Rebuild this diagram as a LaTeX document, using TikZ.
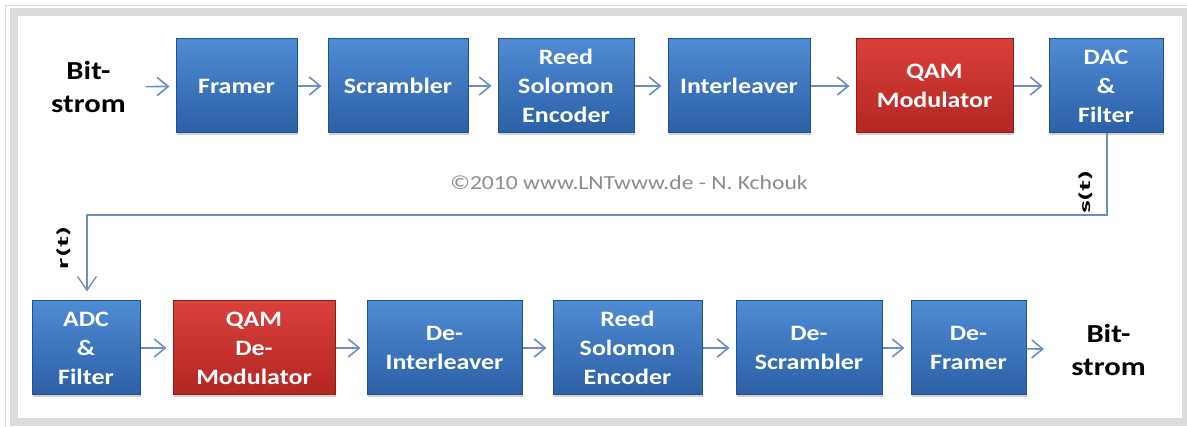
\documentclass[tikz,border=0pt]{standalone}
\usepackage{fontspec}
\setmainfont{Carlito}[FakeStretch=1.18]
\newfontfamily\sigfont{Carlito}[FakeStretch=2.0]
\usetikzlibrary{arrows.meta,shadows}
\definecolor{bluetop}{HTML}{4F8BD3}
\definecolor{bluebot}{HTML}{2C5FA6}
\definecolor{blueedge}{HTML}{234F8C}
\definecolor{redtop}{HTML}{D9403C}
\definecolor{redbot}{HTML}{B32622}
\definecolor{rededge}{HTML}{8A1D1A}
\definecolor{arrowcol}{HTML}{6C8EC4}
\definecolor{framecol}{HTML}{DCDCDC}
\tikzset{
  blk/.style={draw=blueedge, line width=1pt, top color=bluetop, bottom color=bluebot,
    minimum height=94pt, text=white, font=\bfseries\fontsize{22}{29}\selectfont,
    align=center, inner sep=0pt,
    drop shadow={opacity=0.35, shadow xshift=1pt, shadow yshift=-2pt}},
  redblk/.style={blk, draw=rededge, top color=redtop, bottom color=redbot},
  lbl/.style={font=\bfseries\fontsize{26}{33}\selectfont, align=center, inner sep=0pt},
  sig/.style={font=\sigfont\bfseries\fontsize{16}{20}\selectfont, inner sep=0pt, rotate=90},
  arr/.style={draw=arrowcol, line width=1.6pt, -{Straight Barb[length=11pt,width=18pt,line width=1.6pt]}, shorten >=6pt},
  fb/.style={draw=arrowcol, line width=1.3pt, -{Straight Barb[length=14pt,width=19pt,line width=1.3pt]}}
}
\begin{document}
\begin{tikzpicture}[x=1pt,y=-1pt]
\useasboundingbox (0,0) rectangle (1187,427);
\fill[white] (0,0) rectangle (1187,427);
\draw[framecol, line width=0.8pt] (5,5) -- (1187,5);
\draw[framecol, line width=0.8pt] (5,5) -- (5,427);
\draw[framecol, line width=8pt] (13.5,12.5) rectangle (1186,422);
% top row
\node[lbl] (bitin) at (88.5,87) {Bit-\\strom};
\node[blk, minimum width=121pt] (framer) at (236.5,86) {Framer};
\node[blk, minimum width=140pt] (scr) at (398,86) {Scrambler};
\node[blk, minimum width=136pt] (rs) at (566,86) {Reed\\Solomon\\Encoder};
\node[blk, minimum width=142pt] (il) at (739,86) {Interleaver};
\node[redblk, minimum width=157pt] (qam) at (934.5,86) {QAM\\Modulator};
\node[blk, minimum width=114pt] (dac) at (1106,86) {DAC\\\&\\Filter};
% bottom row
\node[blk, minimum width=108pt] (adc) at (86,348) {ADC\\\&\\Filter};
\node[redblk, minimum width=162pt] (qamd) at (254,348) {QAM\\De-\\Modulator};
\node[blk, minimum width=155pt] (dil) at (444.5,348) {De-\\Interleaver};
\node[blk, minimum width=149pt] (rsd) at (627.5,348) {Reed\\Solomon\\Encoder};
\node[blk, minimum width=146pt] (dscr) at (809,348) {De-\\Scrambler};
\node[blk, minimum width=115pt] (dfr) at (968.5,348) {De-\\Framer};
\node[lbl] (bitout) at (1108.5,350) {Bit-\\strom};
% copyright
\node[text=black!45, font=\fontsize{20}{24}\selectfont, inner sep=0pt] (copy) at (629,183) {\textcopyright2010 www.LNTwww.de - N. Kchouk};
% arrows
\draw[arr, shorten <=20pt] (bitin) -- (framer);
\draw[arr] (framer) -- (scr);
\draw[arr] (scr) -- (rs);
\draw[arr] (rs) -- (il);
\draw[arr] (il) -- (qam);
\draw[arr] (qam) -- (dac);
\draw[arr] (adc) -- (qamd);
\draw[arr] (qamd) -- (dil);
\draw[arr] (dil) -- (rsd);
\draw[arr] (rsd) -- (dscr);
\draw[arr] (dscr) -- (dfr);
\draw[arr, shorten >=27pt] (dfr) -- (bitout);
% feedback
\coordinate (c1) at (1107,215);
\coordinate (c2) at (87,215);
\draw[fb, shorten >=9pt] (dac.south -| c1) -- (c1) -- (c2) -- (adc.north -| c2);
\node[sig] (st) at (1086,192) {s(t)};
\node[sig] (rt) at (64,248) {r(t)};
\end{tikzpicture}
\end{document}
